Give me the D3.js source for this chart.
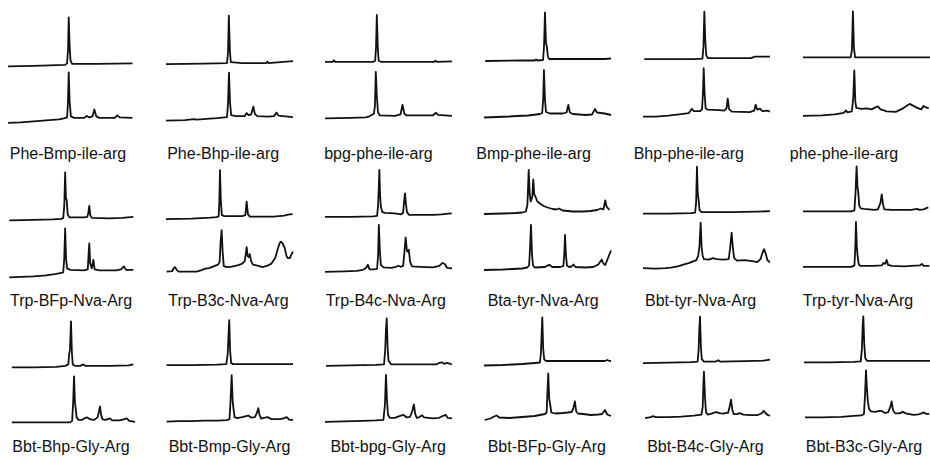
<!DOCTYPE html>
<html>
<head>
<meta charset="utf-8">
<script src="https://cdn.jsdelivr.net/npm/d3@7"></script>
<style>
  body { margin: 0; background: #fff; }
  svg { display: block; }
</style>
</head>
<body>
<div id="chart"></div>
<script>

// peptide names, read row by row (6 per row)
const labels = [
    'Phe-Bmp-ile-arg', 'Phe-Bhp-ile-arg', 'bpg-phe-ile-arg', 'Bmp-phe-ile-arg', 'Bhp-phe-ile-arg', 'phe-phe-ile-arg',
    'Trp-BFp-Nva-Arg', 'Trp-B3c-Nva-Arg', 'Trp-B4c-Nva-Arg', 'Bta-tyr-Nva-Arg', 'Bbt-tyr-Nva-Arg', 'Trp-tyr-Nva-Arg',
    'Bbt-Bhp-Gly-Arg', 'Bbt-Bmp-Gly-Arg', 'Bbt-bpg-Gly-Arg', 'Bbt-BFp-Gly-Arg', 'Bbt-B4c-Gly-Arg', 'Bbt-B3c-Gly-Arg'
]

// upper chromatogram of each panel: [time %, signal %]
const traceTop = [
    [[0,-4],[20,-3],[45,-1],[46.5,2],[47.3,30],[47.8,94],[48.5,40],[49.2,8],[50.5,1],[70,1],[98,2]],
    [[0,-2],[30,-1],[48,0],[48.8,20],[49.5,95],[50.3,25],[51,2],[60,0],[79,0],[79.8,3],[80.6,0],[90,2],[100,4]],
    [[0,0],[6,0],[7,3],[8,0],[38,0],[39.5,2],[40.2,30],[40.8,94],[41.6,25],[42.3,2],[44,0],[86,0],[87,2],[88,0],[100,1]],
    [[1,-1],[30,0],[40,0],[41,2],[42,0],[46.5,1],[47.3,30],[48,96],[48.8,35],[49.5,28],[50.3,8],[51.2,3],[70,3],[95,3],[100,4]],
    [[1,0],[40,0],[46.8,1],[47.6,25],[48.3,95],[49,40],[49.8,8],[51,2],[85,2],[88,5],[100,5]],
    [[0,1],[37.5,1],[38.5,15],[39.3,93],[40.1,20],[41,1],[100,1]],

    [[1,-4],[20,-3],[35,-2],[42,-1],[43.5,1],[44.3,25],[45,92],[45.6,40],[46.2,37],[47,8],[48.5,2],[60,2],[62.5,3],[63.3,12],[64,25],[64.8,6],[66,1],[80,0],[90,1],[98.7,3]],
    [[0,-4],[20,-3],[35,-1],[40,0],[41.5,2],[42,30],[42.5,94],[43.2,30],[44,4],[46,2],[60,2],[62.5,4],[63.5,31],[64.5,6],[66,1],[85,1],[93,3],[96,5],[99.7,6]],
    [[0,-2],[20,-2],[38,-1],[41,0],[41.8,20],[42.4,60],[42.8,92],[43.4,40],[44,18],[45,8],[47,6],[55,5],[60,3],[61.5,6],[62.3,30],[63,45],[63.7,25],[64.5,8],[66,2],[85,2],[92,3],[95,4],[99.8,5]],
    [[0,1],[15,2],[25,3],[30,4],[33,6],[34.2,20],[35.2,89],[36,40],[36.8,26],[38,35],[38.8,70],[39.6,40],[40.5,36],[42,26],[44,22],[47,17],[50,14],[54,11],[57,10],[59,12],[62,8],[70,6],[78,6],[84,7],[89,9],[92,12],[94,10],[95.5,28],[96.5,16],[98.7,9]],
    [[0,-1],[20,-1],[38,0],[41,1],[41.8,20],[42.5,93],[43.1,40],[43.7,28],[44.5,6],[46,2],[70,2],[90,3],[100,4]],
    [[0,1],[20,1],[38,1],[40.5,3],[41.4,40],[42.2,91],[42.9,50],[43.5,40],[44.3,12],[45.5,7],[48,6],[52,5],[56,4],[59,5],[61,18],[62,35],[63,15],[64,5],[70,4],[85,4],[90,6],[91.5,4],[95,5],[97.5,8],[98.7,9]],

    [[3,0],[20,0],[38,1],[45,3],[47.5,6],[48.2,28],[48.8,35],[49.6,92],[50.3,30],[51,6],[53,3],[57,3],[59.3,6],[61,3],[80,3],[95,4],[98.7,6]],
    [[0.5,2],[20,2],[40,3],[47.5,4],[48.6,25],[49.2,60],[49.8,92],[50.5,30],[51.3,6],[53,4],[100,4]],
    [[0.8,-2],[20,-1],[40,0],[46.5,1],[47.4,30],[48,70],[48.6,93],[49.3,35],[50,8],[52,1],[88,1],[90,4],[92,5],[94,2],[96,4],[99.8,1]],
    [[0,-4],[15,-3],[30,-1],[40,1],[44,2],[44.8,20],[45.4,60],[45.9,92],[46.6,30],[47.4,8],[49,5],[85,5],[95,5],[97,7],[99,5],[100,5]],
    [[0,-2],[20,-1],[38,0],[43,1],[43.8,25],[44.4,70],[44.9,91],[45.6,30],[46.3,6],[48,1],[57,1],[59.3,4],[61,1],[80,2],[95,3],[100,5]],
    [[0.8,-3],[20,-3],[40,-2],[45.5,-1],[46.4,25],[47,70],[47.5,89],[48.2,35],[49,6],[50.5,0],[100,0]]
]

// lower chromatogram of each panel
const traceBottom = [
    [[0,-9],[10,-8],[20,-6],[30,-4],[40,-2],[44,0],[46.5,2],[47.2,30],[47.8,92],[48.5,35],[49.5,4],[52,1],[60,1],[62,5],[64,2],[66.5,4],[68,18],[69.5,4],[72,1],[84,1],[86,6],[88,2],[98,1]],
    [[0,-7],[15,-6],[22,-4],[24,-5],[40,-2],[48,0],[48.8,25],[49.6,89],[50.4,30],[51.3,4],[55,2],[62,2],[63.5,8],[65,4],[67,5],[68.8,21],[70,6],[72,2],[80,1],[85,2],[87,9],[88.5,3],[92,2],[100,0]],
    [[0,-5],[20,-4],[32,-3],[35,-1],[37,2],[38.5,4],[39.3,20],[40,88],[40.8,40],[41.7,8],[43,1],[55,0],[59.5,3],[61,22],[62.5,4],[64,1],[85,1],[87.4,6],[89,2],[100,0]],
    [[0,-6],[10,-5],[20,-4],[26,-3],[35,-2],[44,1],[45.8,3],[46.6,30],[47.2,89],[48,30],[48.8,5],[52,2],[62,2],[65,4],[66.4,19],[67.6,4],[70,1],[80,-1],[85,0],[87.4,11],[89,4],[95,2],[100,-1]],
    [[0,-7],[10,-7],[20,-5],[30,-2],[36,0],[38.5,9],[40,4],[45,4],[46.5,8],[47.2,40],[47.8,90],[48.5,40],[49.3,10],[51,7],[60,6],[64,5],[65.8,10],[66.7,29],[67.8,8],[70,3],[84,2],[87.5,5],[88.7,17],[90,7],[92,9],[94,4],[98,5],[100,3]],
    [[0,-8],[15,-7],[25,-5],[32,-2],[34,3],[35,-1],[38.5,1],[39.6,30],[40.4,83],[41.2,20],[42,8],[46,6],[50,7],[54,5],[57,9],[59,11],[61,5],[66,1],[73,0],[78,6],[82,13],[84,16],[87,12],[90,8],[93,5],[95,12],[97,9],[99,7]],

    [[1,-8],[20,-6],[30,-4],[38,-1],[40,0],[43.5,2],[44.3,30],[45,90],[45.7,30],[46.5,10],[49,7],[60,6],[62.8,8],[63.5,40],[64,60],[64.7,20],[66,10],[67.2,27],[68.2,8],[72,6],[85,6],[89,8],[91.3,14],[93,7],[98.7,7]],
    [[0.5,1],[5,2],[6,8],[7,10],[8.5,4],[10,1],[24,1],[28,4],[31,7],[34,8],[37,11],[39,13],[41,15],[42.2,20],[43,60],[43.8,84],[44.6,40],[45.5,12],[48,10],[52,11],[57,14],[60,17],[62,22],[62.8,36],[63.5,50],[64.3,32],[65.2,30],[66,36],[67,22],[68.5,15],[72,13],[76,10],[80,13],[83,17],[86,28],[88,46],[89.5,58],[90.5,61],[92,57],[93.5,48],[94.8,33],[95.8,28],[97.5,28],[98.5,34],[100,41]],
    [[0,-2],[15,-1],[25,0],[30,2],[32.5,6],[33.8,12],[35,3],[38,3],[41,4],[41.8,30],[42.4,92],[43.2,40],[44,12],[46,7],[52,6],[56,8],[57.7,10],[59.5,8],[61.5,10],[62.3,30],[63.5,67],[64.5,40],[65.4,38],[66,42],[67,18],[68.5,9],[75,8],[85,7],[90,10],[92.5,16],[94.5,13],[96,6],[100,5]],
    [[0,-1],[15,0],[30,2],[34,4],[35.5,8],[36.2,40],[37,89],[37.8,30],[38.6,8],[40,4],[48,5],[50,8],[52,9],[53.5,5],[60,5],[62.5,7],[63.2,30],[63.8,69],[64.5,30],[65.3,8],[67,5],[69,6],[70.5,10],[72,5],[80,4],[86,5],[90,10],[92.7,20],[94,12],[95.5,9],[97.5,22],[100,38]],
    [[0,0],[10,-1],[18,0],[22,1],[28,4],[33,8],[36,10],[38,12],[40,14],[42,16],[43.5,25],[44.5,45],[45.4,91],[46.2,40],[47,25],[48,18],[52,17],[55,20],[58,18],[63,17],[67.5,18],[68.6,40],[69.8,71],[70.8,40],[71.8,20],[74,15],[80,16],[86,14],[90,12],[92.5,18],[94,30],[95.3,38],[96.5,30],[98,16],[100,12]],
    [[0,0],[20,0],[38,0],[40.5,3],[41.2,40],[41.7,90],[42.4,40],[43,22],[43.8,6],[45,2],[55,2],[62,3],[63.5,8],[64.8,6],[65.9,14],[67,4],[70,2],[80,1],[85,2],[92,3],[93.5,6],[95,2],[99.5,2]],

    [[3,0],[20,0],[40,0],[49,0],[50.5,3],[51.3,40],[52,92],[52.7,40],[53.2,30],[54,10],[55.5,5],[58,5],[60,8],[62.4,10],[65,6],[68,5],[70.5,10],[71.5,20],[72.4,32],[73.3,15],[74.5,6],[77,5],[80.3,8],[82,4],[88,4],[91,6],[93.5,8],[95.5,3],[100,1]],
    [[0.5,-1],[10,0],[20,0],[30,1],[40,1],[48,2],[50,4],[50.8,40],[51.7,92],[52.5,40],[53,28],[54,8],[56,6],[60,8],[63,10],[64.8,11],[67,7],[70,8],[71.5,16],[72.7,26],[73.7,12],[75,5],[78,7],[80,8],[83,4],[90,4],[93,6],[95,8],[97,3],[100,2]],
    [[0,-4],[15,-3],[30,-2],[40,-1],[46,0],[47.2,30],[48,90],[48.8,40],[49.6,10],[51,4],[55,4],[58,7],[61.7,10],[64,5],[67,6],[68.8,18],[70,31],[71,12],[72.3,4],[74,5],[76.5,9],[78,5],[85,3],[90,4],[93,8],[95,10],[96.5,4],[100,3]],
    [[0.5,-3],[5,0],[8,4],[10,6],[12,2],[20,1],[30,3],[40,5],[46,8],[48,9],[49.3,12],[49.9,50],[50.6,90],[51.3,40],[52,30],[53,12],[56,10],[62,11],[66,12],[69,13],[70.3,20],[71.6,34],[72.6,14],[74,10],[78,9],[84,7],[90,8],[93,9],[95.3,17],[97,8],[100,5]],
    [[1.6,-2],[6,0],[8,2],[10,0],[20,0],[30,1],[40,3],[46,5],[47,20],[47.6,70],[48,91],[48.8,40],[49.6,10],[51,5],[54,7],[56,9],[58,10],[60,8],[63,7],[67,9],[68.3,22],[69.3,35],[70.3,15],[71.5,6],[74,6],[76,8],[79,5],[85,4],[90,4],[93.5,8],[95,13],[96.5,8],[98.5,4],[100,3]],
    [[1.6,-3],[15,-3],[30,-2],[40,0],[46,1],[48,4],[48.8,40],[49.6,91],[50.2,60],[51,30],[52,14],[53.5,9],[57,8],[60,10],[62,10],[64.5,6],[67,7],[68.8,18],[69.8,29],[70.8,12],[72.5,5],[76,5],[78.5,8],[81,5],[87,2],[91,3],[93.5,5],[95.3,7],[97,4],[99.4,4]]
]

// ---- layout
const W = 930, H = 461
const colX = [8, 166, 325, 484, 643, 803]
const traceW = 127
const rowTop = [65, 219, 368]
const rowBottom = [119, 274, 423]
const labelY = [159, 306, 452]
const labelSpan = [[68, 844], [71, 858], [71, 864]]
const tilt = 0.0082   // the scan is slightly rotated

const svg = d3.select('#chart').append('svg')
    .attr('width', W)
    .attr('height', H)

svg.append('rect').attr('width', W).attr('height', H).attr('fill', '#fff')

const x = d3.scaleLinear().domain([0, 100]).range([0, traceW])
const y = d3.scaleLinear().domain([0, 100]).range([0, -50])

const line = d3.line()
    .x(d => x(d[0]))
    .y(d => y(d[1]))

const panels = labels.map((name, i) => ({
    name,
    row: Math.floor(i / 6),
    col: i % 6,
    top: traceTop[i],
    bottom: traceBottom[i]
}))

const panel = svg.selectAll('g.panel').data(panels)
    .enter()
    .append('g')
    .attr('class', 'panel')
    .attr('transform', d => `translate(${colX[d.col]},${(-tilt * (colX[d.col] + traceW / 2)).toFixed(1)})`)

panel.append('path')
    .attr('transform', d => `translate(0,${rowTop[d.row]})`)
    .attr('d', d => line(d.top))

panel.append('path')
    .attr('transform', d => `translate(0,${rowBottom[d.row]})`)
    .attr('d', d => line(d.bottom))

panel.selectAll('path')
    .attr('fill', 'none')
    .attr('stroke', '#111')
    .attr('stroke-width', 1.8)
    .attr('stroke-linejoin', 'round')

svg.selectAll('text.name').data(panels)
    .enter()
    .append('text')
    .attr('class', 'name')
    .attr('x', d => d3.scaleLinear().domain([0, 5]).range(labelSpan[d.row])(d.col))
    .attr('y', d => labelY[d.row])
    .attr('text-anchor', 'middle')
    .attr('font-family', '"Liberation Sans", Arial, sans-serif')
    .attr('font-size', 16)
    .attr('fill', '#111')
    .text(d => d.name)

</script>
</body>
</html>
